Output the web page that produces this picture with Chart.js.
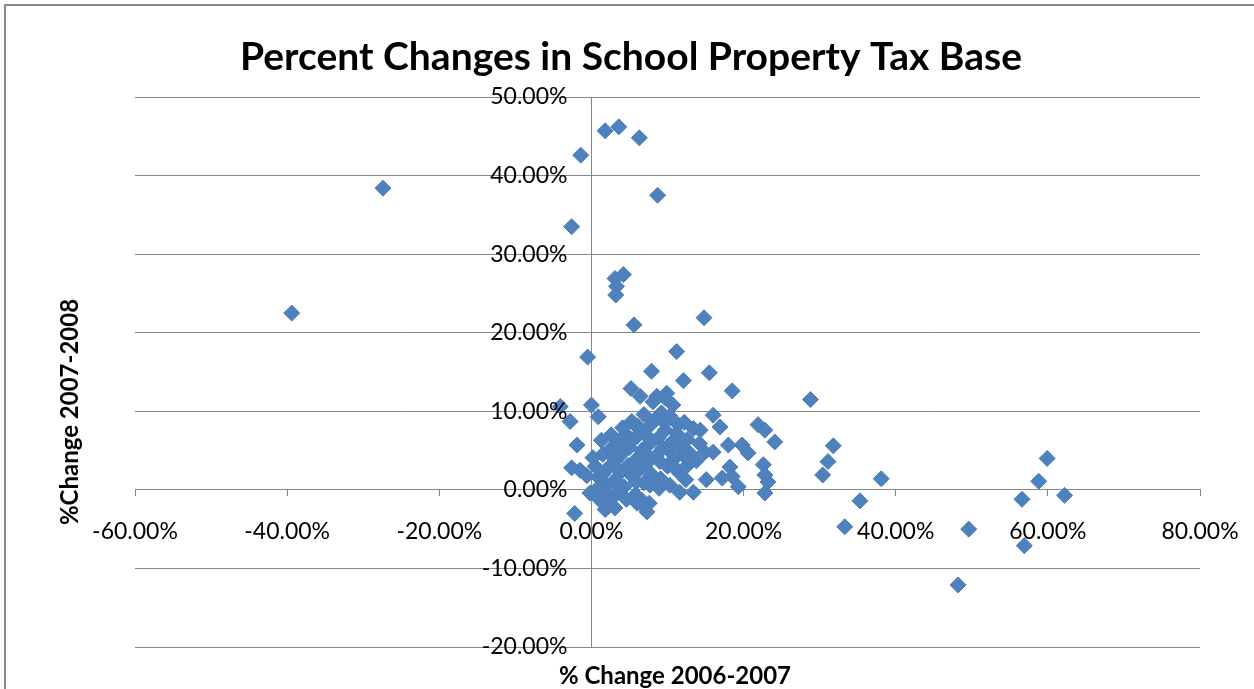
<!DOCTYPE html>
<html>
<head>
<meta charset="utf-8">
<title>Percent Changes in School Property Tax Base</title>
<script src="https://cdn.jsdelivr.net/npm/chart.js@4.4.1/dist/chart.umd.min.js"></script>
<style>
  html, body { margin: 0; padding: 0; background: #fff; }
  #wrap { width: 1254px; height: 689px; position: relative; }
</style>
</head>
<body>
<div id="wrap"><canvas id="taxChart" width="1254" height="689"></canvas></div>
<script>
// % change in district tax base, 2006-2007 (x) against 2007-2008 (y)
var change0607 = [
  -39.4, -27.4, -1.4, 1.8, 3.6, 6.3, 8.7, -2.6,
  3.1, 4.2, 3.3, 3.2, 5.6, 14.8, -0.5, 11.2, 7.9, 15.5, 12.1, 18.5, 5.2,
  -4.1, -2.8, 0.0, 0.9, -1.9, -2.2, 8.6, 9.9, 6.4,
  28.8, 31.8, 31.1, 30.4, 38.1, 35.3, 33.3, 49.6, 48.2, 56.6, 58.8, 59.9, 62.2, 56.9,
  16.0, 16.9, 21.9, 22.8, 24.1, 18.0, 19.8, 20.6, 22.6, 22.8, 23.2, 22.8, 18.2, 18.5, 19.3, 17.2, 16.0,
  9.7, 8.1, 10.7, 11.4, 14.9, 12.7, 11.6, 13.4, 10.3, 7.7, 7.3, 15.1, 14.3, 7.6, 6.0, 1.8, 3.1,
  5.5, -1.5, 1.1, 2.1, 6.6, -2.6, -0.2,
  0.5, 1.0, 1.5, 2.0, 2.2, 2.5, 3.0, 3.2, 3.5, 3.8, 4.0, 4.3, 4.5, 4.8, 5.0, 5.3, 5.6, 5.9,
  6.1, 6.3, 6.6, 6.9, 7.1, 7.4, 7.6, 7.9, 8.2, 8.5, 8.8, 9.1, 9.4, 9.7, 10.0, 10.3, 10.6,
  10.9, 11.2, 11.5, 11.8, 12.2, 12.6, 13.0, 13.4, 13.8, 14.2,
  2.8, 3.6, 5.8, 6.8, 8.9, 1.3, 0.2, -0.6, 1.8, 6.9, 5.3, 4.1, 0.8, 2.6, 9.2, 12.4, 4.6,
  1.5, 2.8, 4.4, 5.1, 6.0, 7.0, 8.0, 9.0, 10.2, 11.0, 3.4, 5.9, 7.8, 9.6, 12.0
];
var change0708 = [
  22.5, 38.4, 42.6, 45.7, 46.2, 44.8, 37.5, 33.5,
  26.9, 27.4, 25.9, 24.8, 21.0, 21.9, 16.9, 17.6, 15.1, 14.9, 13.9, 12.6, 12.9,
  10.6, 8.7, 10.8, 9.3, 5.7, -3.0, 11.9, 12.3, 11.9,
  11.5, 5.6, 3.6, 1.9, 1.4, -1.4, -4.7, -5.0, -12.1, -1.2, 1.1, 4.0, -0.7, -7.1,
  9.5, 8.0, 8.3, 7.6, 6.1, 5.7, 5.7, 4.7, 3.2, 1.9, 1.0, -0.4, 2.9, 1.7, 0.4, 1.5, 4.8,
  11.7, 11.2, 10.8, 8.3, 4.8, 3.2, -0.3, -0.3, 0.6, 0.6, -2.8, 1.3, 7.6, -1.7, -1.7, -2.5, -2.3,
  8.5, 2.5, -1.3, -2.2, -1.3, 2.8, -0.4,
  3.0, 1.5, 4.5, 0.5, 2.8, 5.2, 1.2, 3.8, 6.0, 2.2, 4.6, 0.4, 7.1, 3.1, 5.4, 1.8, 6.5, 3.9,
  8.1, 2.6, 5.0, 0.9, 7.0, 3.5, 5.9, 2.0, 8.8, 4.3, 6.6, 1.4, 5.3, 7.6, 3.0, 9.4, 6.1,
  4.0, 7.2, 2.2, 5.5, 8.6, 6.4, 4.6, 7.8, 3.7, 5.9,
  -1.0, -0.2, -0.6, -2.0, 0.2, 6.3, 4.1, 1.8, -0.5, 9.6, 8.7, 7.9, 0.2, 7.0, 9.8, 1.3, -1.2,
  2.0, 4.2, 5.8, 3.0, 6.8, 4.8, 6.2, 3.6, 5.0, 2.8, 1.0, 1.0, 8.3, 8.6, 4.5
];

var xRange = [-60, 80];
var yRange = [-20, 50];
var chartTitle = 'Percent Changes in School Property Tax Base';
var xTitle = '% Change 2006-2007';
var yTitle = '%Change 2007-2008';

var points = change0607.map(function(x, i) {
    return { x: x, y: change0708[i] };
});

function pct(v) {
    return Number(v).toFixed(2) + '%';
}

// ====================================
// Frame, titles and y tick labels
// ====================================
var decorations = {
    id: 'decorations',
    beforeDraw: function(chart) {
        var c = chart.ctx;
        c.save();
        c.fillStyle = '#fff';
        c.fillRect(0, 0, chart.width, chart.height);
        c.strokeStyle = '#8a8a8a';
        c.lineWidth = 2;
        c.strokeRect(5, 5, chart.width + 20, chart.height + 20);
        c.restore();
    },
    afterDraw: function(chart) {
        var c = chart.ctx;
        var xs = chart.scales.x;
        var ys = chart.scales.y;
        var axisX = xs.getPixelForValue(0);

        c.save();
        c.fillStyle = '#000';
        c.textBaseline = 'middle';

        // y labels sit left of the crossing axis
        c.font = '23px Lato';
        c.textAlign = 'right';
        ys.ticks.forEach(function(t) {
            c.fillText(pct(t.value), axisX - 24, ys.getPixelForValue(t.value));
        });

        c.textAlign = 'center';
        c.font = 'bold 39px Lato';
        c.fillText(chartTitle, 631, 57);

        c.font = 'bold 24px Lato';
        c.fillText(xTitle, 675, 676);
        c.translate(70, 412);
        c.rotate(-Math.PI / 2);
        c.fillText(yTitle, 0, 0);
        c.restore();
    }
};

var ctx = document.getElementById('taxChart').getContext('2d');
new Chart(ctx, {
    type: 'scatter',
    data: {
        datasets: [{
            label: 'Districts',
            data: points,
            pointStyle: 'rectRot',
            pointRadius: 8,
            pointHoverRadius: 8,
            backgroundColor: '#4F81BD',
            borderColor: '#4A7EBB',
            borderWidth: 1
        }]
    },
    options: {
        responsive: false,
        animation: false,
        devicePixelRatio: 1,
        layout: {
            padding: { left: 135, right: 54, top: 97, bottom: 42 }
        },
        plugins: {
            legend: { display: false },
            tooltip: { enabled: false },
            title: { display: false }
        },
        scales: {
            x: {
                type: 'linear',
                position: { y: 0 },
                min: xRange[0],
                max: xRange[1],
                // end labels may hang past the plot edges
                afterFit: function(scale) {
                    scale.paddingLeft = 0;
                    scale.paddingRight = 0;
                },
                ticks: {
                    stepSize: 20,
                    color: '#000',
                    font: { family: 'Lato', size: 23 },
                    padding: 22,
                    maxRotation: 0,
                    callback: function(v) { return pct(v); }
                },
                grid: {
                    drawOnChartArea: false,
                    drawTicks: true,
                    tickLength: 6,
                    color: '#868686'
                },
                border: { display: true, color: '#868686' }
            },
            y: {
                type: 'linear',
                position: { x: 0 },
                min: yRange[0],
                max: yRange[1],
                ticks: {
                    stepSize: 10,
                    display: false
                },
                grid: {
                    drawOnChartArea: true,
                    drawTicks: true,
                    tickLength: 6,
                    color: '#868686'
                },
                border: { display: true, color: '#868686' }
            }
        }
    },
    plugins: [decorations]
});
</script>
</body>
</html>
